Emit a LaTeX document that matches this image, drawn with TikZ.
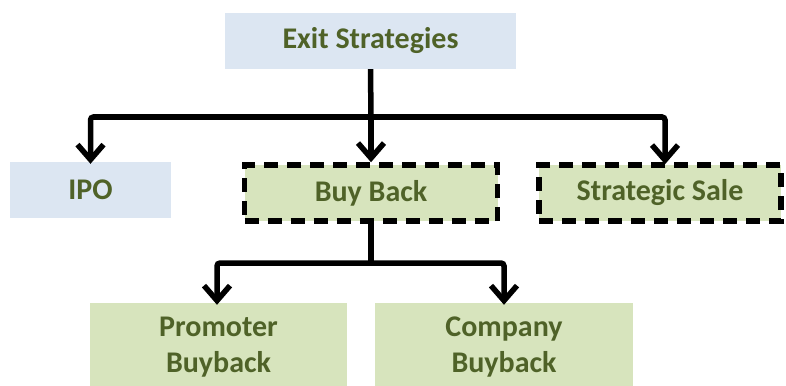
\documentclass[tikz,border=0pt]{standalone}
\usepackage{fontspec}
\setmainfont{Carlito}
\usetikzlibrary{arrows.meta}
\definecolor{bluefill}{HTML}{DCE6F2}
\definecolor{greenfill}{HTML}{D7E4BD}
\definecolor{txtgreen}{HTML}{4F6228}
\begin{document}
\begin{tikzpicture}[x=1pt,y=-1pt,
  box/.style={rectangle, inner sep=0pt, align=center, text=txtgreen,
    font=\fontsize{30}{36}\selectfont\bfseries},
  bluebox/.style={box, fill=bluefill},
  greenbox/.style={box, fill=greenfill},
  dashbox/.style={greenbox, draw=black, line width=5.5pt, dash pattern=on 14pt off 9pt},
  conn/.style={draw=black, line width=5.5pt, rounded corners=3pt,
    -{Straight Barb[length=15pt,width=26pt,line width=5.5pt]}},
  plain/.style={draw=black, line width=5.5pt}]
\useasboundingbox (0,0) rectangle (786,385);
\clip (0,0) rectangle (786,385);
\node[bluebox, minimum width=291pt, minimum height=56pt] (exit) at (370.5,41) {Exit Strategies};
\node[bluebox, minimum width=161pt, minimum height=56pt] (ipo) at (90.5,190) {IPO};
\node[dashbox, minimum width=253pt, minimum height=56pt] (bb) at (371,193) {Buy Back};
\node[dashbox, minimum width=242pt, minimum height=56pt] (ss) at (660,193) {Strategic Sale};
\node[greenbox, minimum width=257pt, minimum height=88pt] (pb) at (218.5,347) {Promoter\\Buyback};
\node[greenbox, minimum width=258pt, minimum height=88pt] (cb) at (504,347) {Company\\Buyback};
\coordinate (j1) at (371,117);
\coordinate (j2) at (371,263);
\draw[plain] (exit.south) -- (j1);
\draw[conn] (j1) -| ([yshift=-2pt]ipo.north);
\draw[conn] (j1) -| ([xshift=5pt,yshift=-2pt]ss.north);
\draw[conn] (j1) -- (bb.north);
\draw[plain] (bb.south) -- (j2);
\draw[conn] (j2) -| ([xshift=-1.5pt,yshift=-2pt]pb.north);
\draw[conn] (j2) -| ([yshift=-2pt]cb.north);
\end{tikzpicture}
\end{document}
